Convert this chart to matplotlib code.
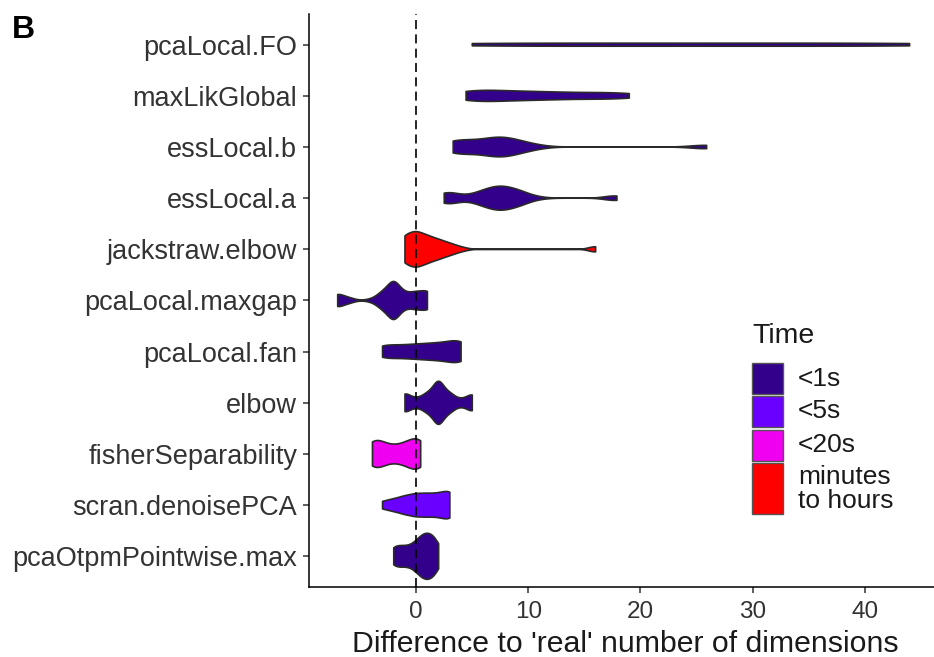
import numpy as np
import matplotlib
matplotlib.use("Agg")
import matplotlib.pyplot as plt
from matplotlib.patches import Rectangle

plt.rcParams['font.family'] = ['Liberation Sans', 'DejaVu Sans']
plt.rcParams['lines.scale_dashes'] = False

# ---------------- data ----------------
methods = ["pcaLocal.FO", "maxLikGlobal", "essLocal.b", "essLocal.a", "jackstraw.elbow",
           "pcaLocal.maxgap", "pcaLocal.fan", "elbow", "fisherSeparability",
           "scran.denoisePCA", "pcaOtpmPointwise.max"]
time_class = ["<1s", "<1s", "<1s", "<1s", "minutes\nto hours", "<1s", "<1s", "<1s",
              "<20s", "<5s", "<1s"]
time_levels = ["<1s", "<5s", "<20s", "minutes\nto hours"]
time_colors = ["#33008C", "#6A00FF", "#F000F0", "#FF0000"]

# difference to real number of dimensions (value, how often observed)
fo_vals = [5, 8, 11, 14, 17, 20, 23, 26, 29, 32, 35, 38, 41, 44]
fo_counts = [2, 1, 1, 1, 1, 1, 1, 1, 1, 1, 1, 1, 1, 2]
mlg_vals = [4.45, 5, 6, 7, 8, 9, 10, 11, 12, 13, 14, 15, 16, 17, 18, 19]
mlg_counts = [7, 5, 5, 5, 5, 4, 4, 4, 4, 3, 3, 3, 3, 3, 3, 4]
essb_vals = [3.3, 3.8, 4.5, 5.5, 6.5, 7.5, 8.5, 9.5, 10.5, 25.5, 25.9]
essb_counts = [5, 3, 3, 3, 5, 8, 5, 3, 2, 1, 2]
essa_vals = [2.5, 3.0, 3.5, 4.0, 5.0, 5.5, 6.0, 6.5, 7.0, 7.5, 8.0, 8.5, 9.0, 9.5,
             10.0, 11.0, 17.5, 17.9]
essa_counts = [5, 3, 2, 1, 2, 2, 4, 4, 5, 6, 5, 4, 4, 3, 2, 1, 2, 2]
jack_vals = [-1, 0, 1, 2, 3, 4, 16]
jack_counts = [12, 15, 11, 8, 5, 2, 3]
maxgap_vals = [-7, -6, -4, -3, -2, -1, 0, 1]
maxgap_counts = [70, 28, 14, 84, 210, 70, 84, 98]
fan_vals = [-3, -2, -1, 0, 1, 2, 3, 4]
fan_counts = [12, 9, 10, 11, 12, 13, 14, 22]
elbow_vals = [-1, 0, 1, 2, 3, 4, 5]
elbow_counts = [20, 9, 19, 47, 19, 7, 18]
fisher_vals = [-3.9, -3.5, -3, -2.5, -2, -1.5, -1, -0.5, 0, 0.4]
fisher_counts = [6, 3, 3, 2, 2, 2, 3, 3, 4, 6]
scran_vals = [-3, -2, -1, 0, 1, 2, 3]
scran_counts = [10, 16, 24, 30, 30, 30, 40]
otpm_vals = [-2, -1.5, -1, -0.5, 0, 0.5, 1, 1.5, 2]
otpm_counts = [8, 7, 7, 7, 10, 15, 16, 15, 9]

all_vals = [fo_vals, mlg_vals, essb_vals, essa_vals, jack_vals, maxgap_vals,
            fan_vals, elbow_vals, fisher_vals, scran_vals, otpm_vals]
all_counts = [fo_counts, mlg_counts, essb_counts, essa_counts, jack_counts,
              maxgap_counts, fan_counts, elbow_counts, fisher_counts,
              scran_counts, otpm_counts]

x_ticks = [0, 10, 20, 30, 40]
x_label = "Difference to 'real' number of dimensions"


# ---------------- violin statistics (like geom_violin, trim=TRUE, scale='area') ----------------
def bw_nrd0(x):
    sd = np.std(x, ddof=1)
    q75, q25 = np.percentile(x, [75, 25])
    lo = min(sd, (q75 - q25) / 1.34)
    if lo <= 0:
        lo = sd
    return 0.9 * lo * len(x) ** -0.2


def kde(x, grid):
    bw = bw_nrd0(x)
    z = (grid[:, None] - x[None, :]) / bw
    return np.exp(-0.5 * z ** 2).sum(axis=1) / (len(x) * bw * np.sqrt(2 * np.pi))


stats = []
for vals, cnts in zip(all_vals, all_counts):
    x = np.repeat(np.asarray(vals, float), cnts)
    grid = np.linspace(x.min(), x.max(), 512)
    stats.append((grid, kde(x, grid)))
dmax = max(d.max() for _, d in stats)

# ---------------- figure ----------------
W, H = 934, 657
fig = plt.figure(figsize=(W / 100, H / 100), dpi=100)
ax = fig.add_axes([309 / W, (H - 587) / H, 632 / W, 573 / H])

for i, ((grid, dens), tc) in enumerate(zip(stats, time_class)):
    pos = i + 1
    half = 0.45 * dens / dmax
    xs = np.concatenate([grid, grid[::-1]])
    ys = np.concatenate([pos + half, (pos - half)[::-1]])
    ax.fill(xs, ys, facecolor=time_colors[time_levels.index(tc)],
            edgecolor="#2a2a2a", linewidth=1.2, joinstyle="round", zorder=2)

ax.axvline(0, color="black", linewidth=1.2, dashes=(6.5, 3.8), zorder=3)

ax.set_xlim(-9.56, 46.8)
ax.set_ylim(11.6, 0.4)
ax.set_yticks(range(1, len(methods) + 1))
ax.set_yticklabels(methods)
ax.set_xticks(x_ticks)
ax.set_xticklabels([str(t) for t in x_ticks])
ax.set_xlabel(x_label, fontsize=21.8, color="#1a1a1a", labelpad=5)
for s in ["top", "right"]:
    ax.spines[s].set_visible(False)
for s in ["left", "bottom"]:
    ax.spines[s].set_linewidth(1.1)
    ax.spines[s].set_color("black")
ax.tick_params(axis="y", length=4.5, width=1.1, color="#333333",
               labelsize=19.5, labelcolor="#333333", pad=4)
ax.tick_params(axis="x", length=4.5, width=1.1, color="#333333",
               labelsize=17.5, labelcolor="#333333", pad=5.5)

# panel tag
fig.text(12 / W, 1 - 38 / H, "B", fontsize=23, fontweight="bold", va="baseline")

# legend (drawn manually to mimic ggplot key layout)
fig.text(752 / W, 1 - 343 / H, "Time", fontsize=20.5, va="baseline", color="#1a1a1a")
key_tops = [363, 396, 430, 463]
key_heights = [31, 31, 31, 51]
for lvl, col, top, hgt in zip(time_levels, time_colors, key_tops, key_heights):
    fig.add_artist(Rectangle((752 / W, 1 - (top + hgt) / H), 31 / W, hgt / H,
                             transform=fig.transFigure, facecolor=col,
                             edgecolor="#555555", linewidth=1.0))
    fig.text(798 / W, 1 - (top + hgt / 2) / H, lvl, fontsize=19, va="center",
             ha="left", linespacing=1.0, color="#1a1a1a")

fig.savefig("out.png", dpi=100)
